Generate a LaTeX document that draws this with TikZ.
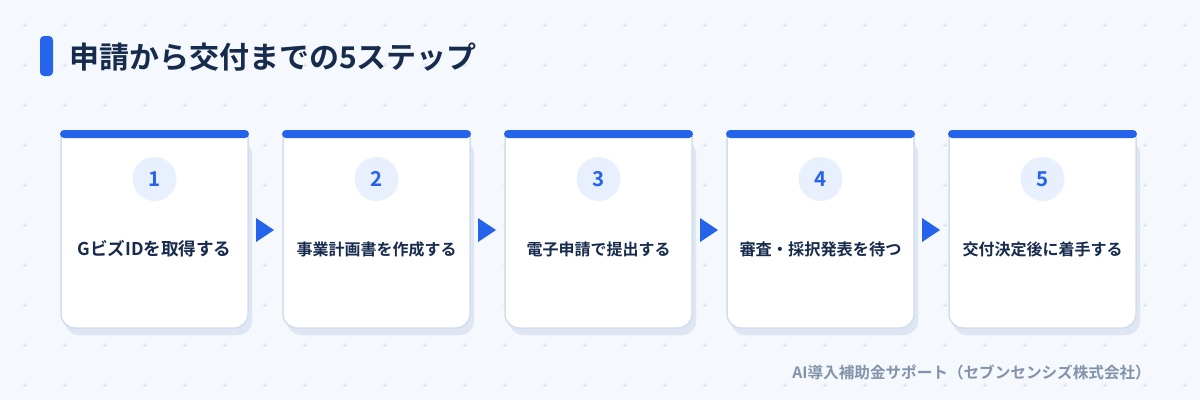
\documentclass[tikz,border=0pt]{standalone}
\usepackage{fontspec}
\setmainfont{Noto Sans CJK JP}[BoldFont={Noto Sans CJK JP Bold}]
\definecolor{bg}{HTML}{F5F8FC}
\definecolor{plusc}{HTML}{DCE3EE}
\definecolor{blue}{HTML}{2563EB}
\definecolor{navy}{HTML}{172B4D}
\definecolor{cardline}{HTML}{D3DEEC}
\definecolor{shadowc}{HTML}{DDE6F2}
\definecolor{circ}{HTML}{E8F0FD}
\definecolor{foot}{HTML}{8393AB}
\tikzset{
  plusmark/.style={draw=plusc, line width=0.9pt},
  numcirc/.style={circle, fill=circ, minimum size=44pt, inner sep=0pt, text=blue, font=\bfseries\fontsize{20.5}{21}\selectfont},
  steptext/.style={text=navy, font=\bfseries\fontsize{16}{16}\selectfont, inner sep=0pt},
  arrowtri/.style={fill=blue},
}
\begin{document}
\begin{tikzpicture}[x=1pt,y=-1pt]
\fill[bg] (0,0) rectangle (1200,400);
\useasboundingbox (0,0) rectangle (1200,400);
% plus grid
\foreach \gx in {25,65,...,1185}{
  \foreach \gy in {25,65,...,385}{
    \draw[plusmark] (\gx-2,\gy) -- (\gx+2,\gy) (\gx,\gy-2) -- (\gx,\gy+2);
  }
}
% title
\fill[blue, rounded corners=4pt] (40,36) rectangle (53,76);
\node[anchor=west, text=navy, font=\bfseries\fontsize{30}{30}\selectfont, inner sep=0pt] (title) at (69,57) {申請から交付までの5ステップ};
% cards
\foreach \i/\lbl/\fs in {1/GビズIDを取得する/17.6,2/事業計画書を作成する/16,3/電子申請で提出する/16,4/審査・採択発表を待つ/16.2,5/交付決定後に着手する/16}{
  \pgfmathsetmacro{\xa}{61+222*(\i-1)}
  \pgfmathsetmacro{\xb}{\xa+187}
  \fill[shadowc, rounded corners=14pt] (\xa+4,140) -- (\xa+4,335) -- (\xb+4,335) -- (\xb+4,140) -- cycle;
  \filldraw[fill=white, draw=cardline, line width=1.5pt, rounded corners=14pt] (\xa,134) -- (\xa,328) -- (\xb,328) -- (\xb,134);
  \fill[blue, rounded corners=4pt] (\xa-1,130) rectangle (\xb+1,138);
  \node[numcirc] (c\i) at ({(\xa+\xb)/2},179) {\i};
  \node[steptext, font=\bfseries\fontsize{\fs}{\fs}\selectfont] (t\i) at ({(\xa+\xb)/2},249) {\lbl};
}
% arrows
\foreach \i in {1,...,4}{
  \pgfmathsetmacro{\ax}{256+222*(\i-1)}
  \fill[arrowtri] (\ax,218) -- (\ax+18,230) -- (\ax,242) -- cycle;
}
% footer
\node[anchor=east, text=foot, font=\bfseries\fontsize{15.6}{16}\selectfont, inner sep=0pt] (footer) at (1151,373) {AI導入補助金サポート（セブンセンシズ株式会社）};
\end{tikzpicture}
\end{document}
